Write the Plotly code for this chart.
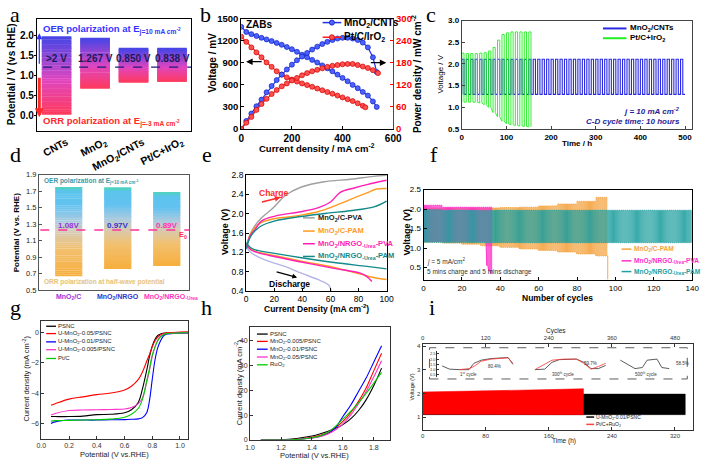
import plotly.graph_objects as go
from plotly.colors import sample_colorscale

W, H = 709, 466
FONT = "Liberation Sans"
SERIF = "Liberation Serif"

# ======================= DATA =======================
# (a) OER/ORR polarisation gaps
a_categories = ["CNTs", "MnO<sub>2</sub>", "MnO<sub>2</sub>/CNTs", "Pt/C+IrO<sub>2</sub>"]
a_orr_potential = [0.02, 0.67, 0.83, 0.84]
a_oer_potential = [1.97, 1.93, 1.67, 1.67]
a_gap_labels = [">2 V", "1.267 V", "0.850 V", "0.838 V"]
a_reference_V = 1.2
a_yticks = [0.0, 0.5, 1.0, 1.5, 2.0]

# (b) ZAB polarisation and power density
b_mn_j = [0, 20, 40, 60, 80, 100, 120, 140, 160, 180, 200, 220, 240, 260, 280, 300, 320, 340, 360, 380,
          400, 420, 440, 460, 480, 500, 520, 535]
b_mn_voltage = [1389, 1320, 1290, 1265, 1240, 1218, 1195, 1170, 1145, 1115, 1085, 1050, 1010, 975, 940, 905,
                865, 825, 785, 740, 695, 650, 600, 555, 505, 455, 375, 300]
b_mn_power = [0, 22, 42, 62, 80, 100, 117, 133, 148, 162, 175, 187, 197, 207, 216, 224, 231, 237, 242, 246,
              248, 248, 246, 242, 235, 222, 195, 155]
b_pt_jv = [0, 20, 40, 60, 80, 100, 120, 140, 160, 180, 200, 220, 240, 260, 280, 300, 320, 340, 360, 380,
           400, 420, 440, 460, 480, 490]
b_pt_voltage = [1256, 1185, 1110, 1042, 975, 905, 845, 785, 740, 702, 672, 645, 620, 597, 574, 550, 527, 503,
                480, 455, 430, 405, 380, 350, 315, 295]
b_pt_jp = [0, 20, 40, 60, 80, 100, 120, 140, 160, 180, 200, 220, 240, 260, 280, 300, 320, 340, 360, 380,
           400, 420, 440, 460, 480, 500, 520, 540]
b_pt_power = [0, 17, 33, 52, 68, 82, 95, 106, 116, 124, 132, 139, 146, 152, 157, 161, 165, 169, 172, 174,
              176, 177, 177, 174, 170, 166, 160, 152]

# (c) galvanostatic cycling
c_cycle_h = 10
c_mn_cycles = 50
c_mn_charge_V = [2.11]
c_mn_discharge_V = [1.30]
c_pt_charge_V = [2.25, 2.24, 2.24, 2.24, 2.25, 2.26, 2.30, 2.38, 2.55, 2.68, 2.72, 2.74, 2.74, 2.74, 2.74, 2.74]
c_pt_discharge_V = [1.12, 1.12, 1.12, 1.12, 1.10, 1.06, 1.00, 0.88, 0.78, 0.68, 0.62, 0.60, 0.58, 0.57, 0.56, 0.55]

# (d) polarisation gaps
d_categories = ["MnO<sub>2</sub>/C", "MnO<sub>2</sub>/NRGO", "MnO<sub>2</sub>/NRGO<sub>-Urea</sub>"]
d_label_colors = ["#9933dd", "#3333cc", "#ff33bb"]
d_orr_potential = [0.67, 0.76, 0.80]
d_oer_potential = [1.75, 1.75, 1.69]
d_gap_labels = ["1.08V", "0.97V", "0.89V"]
d_E0 = 1.23
d_yticks = [0.5, 0.7, 0.9, 1.1, 1.3, 1.5, 1.7, 1.9]

# (e) charge / discharge polarisation
e_names = ["MnO<sub>2</sub>/C-PVA", "MnO<sub>2</sub>/C-PAM", "MnO<sub>2</sub>/NRGO<sub>-Urea</sub>-PVA",
           "MnO<sub>2</sub>/NRGO<sub>-Urea</sub>-PAM"]
e_colors = ["#a0a0a0", "#ff9a1f", "#ff1fb4", "#138a8a"]
e_text_colors = ["#222222", "#ff9a1f", "#ff1fb4", "#138a8a"]
e_dis_colors = ["#b4b4e6", "#ff9a1f", "#ff1fb4", "#138a8a"]
e_grey_charge_j = [0, 3, 6.5, 11.2, 18.2, 22.9, 27.6, 39.3, 55.6, 74.3, 90.7, 100]
e_grey_charge_V = [1.30, 1.58, 1.76, 1.92, 2.09, 2.23, 2.37, 2.55, 2.66, 2.71, 2.77, 2.79]
e_orange_charge_j = [0, 3, 6.5, 11, 20.6, 30, 39, 51, 63, 74, 86, 93, 100]
e_orange_charge_V = [1.30, 1.58, 1.72, 1.82, 1.90, 1.93, 1.97, 2.04, 2.16, 2.29, 2.43, 2.51, 2.52]
e_pink_charge_j = [0, 3, 6.5, 11, 20.6, 39, 51, 60, 67, 77, 86, 100]
e_pink_charge_V = [1.28, 1.55, 1.68, 1.85, 1.95, 2.04, 2.12, 2.24, 2.44, 2.53, 2.60, 2.69]
e_teal_charge_j = [0, 3, 6.5, 11, 20.6, 39, 58, 74, 91, 100]
e_teal_charge_V = [1.27, 1.52, 1.65, 1.75, 1.85, 1.94, 2.01, 2.06, 2.14, 2.26]
e_grey_dis_j = [0, 3, 6.5, 15.9, 27.6, 39.3, 51, 59, 60.5]
e_grey_dis_V = [1.31, 1.21, 1.14, 1.02, 0.91, 0.77, 0.64, 0.52, 0.40]
e_orange_dis_j = [0, 3, 6.5, 15.9, 39.3, 62.6, 81.3, 90.7, 100]
e_orange_dis_V = [1.38, 1.28, 1.22, 1.16, 1.02, 0.89, 0.75, 0.68, 0.64]
e_pink_dis_j = [0, 3, 6.5, 15.9, 39.3, 62.6, 81.3, 86, 89.5]
e_pink_dis_V = [1.35, 1.26, 1.21, 1.14, 1.00, 0.87, 0.77, 0.70, 0.60]
e_teal_dis_j = [0, 3, 6.5, 15.9, 39.3, 62.6, 86, 100]
e_teal_dis_V = [1.40, 1.30, 1.25, 1.20, 1.09, 0.99, 0.91, 0.86]

# (f) cycling of flexible cells (values per block of 10 cycles)
f_block = 10
f_orange_cycles = 96
f_orange_top = [2.03, 2.03, 2.03, 2.03, 2.04, 2.05, 2.08, 2.13, 2.20, 2.30]
f_orange_bot = [1.15, 1.13, 1.10, 1.06, 1.02, 0.98, 0.94, 0.90, 0.85, 0.80]
f_orange_end_V = 0.2
f_pink_cycles = 33
f_pink_top = [2.10, 2.05, 2.05, 2.05]
f_pink_bot = [1.17, 1.17, 1.17, 1.17]
f_pink_fail_V = [0.55, 0.42, 0.35]
f_teal_cycles = 140
f_teal_top = [1.99, 1.97, 1.97, 1.97, 1.97, 1.97, 1.97, 1.97, 1.97, 1.97, 1.97, 1.97, 1.97, 1.97]
f_teal_bot = [1.15, 1.14, 1.14, 1.14, 1.14, 1.14, 1.14, 1.14, 1.14, 1.14, 1.14, 1.14, 1.14, 1.14]

# (g) ORR LSV
g_names = ["PSNC", "U-MnO<sub>2</sub>-0.05/PSNC", "U-MnO<sub>2</sub>-0.01/PSNC", "U-MnO<sub>2</sub>-0.005/PSNC", "Pt/C"]
g_colors = ["#000000", "#ff0000", "#0000ff", "#ff33cc", "#00cc00"]
g_potential = [0.07, 0.1, 0.2, 0.3, 0.4, 0.5, 0.6, 0.65, 0.7, 0.73, 0.76, 0.78, 0.8, 0.82, 0.84, 0.86, 0.88,
               0.9, 0.95, 1.0, 1.06]
g_psnc = [-5.55, -5.55, -5.55, -5.52, -5.42, -5.4, -5.3, -5.1, -4.6, -3.7, -2.5, -1.6, -0.9, -0.45, -0.2, -0.1,
          -0.06, -0.04, -0.03, -0.02, -0.02]
g_mn005 = [-4.8, -4.7, -4.4, -4.25, -4.1, -4.0, -3.8, -3.55, -3.1, -2.6, -1.9, -1.45, -0.95, -0.55, -0.3, -0.15,
           -0.07, -0.03, 0.0, 0.02, 0.05]
g_mn001 = [-6.0, -5.9, -5.78, -5.78, -5.78, -5.76, -5.75, -5.73, -5.7, -5.62, -5.3, -4.5, -3.1, -1.8, -1.0, -0.55,
           -0.25, -0.12, -0.07, -0.05, -0.04]
g_mn0005 = [-5.45, -5.35, -5.15, -5.12, -5.1, -5.08, -5.05, -4.95, -4.7, -4.3, -3.3, -2.5, -1.6, -0.95, -0.5,
            -0.25, -0.12, -0.08, -0.05, -0.03, -0.02]
g_ptc = [-5.85, -5.82, -5.8, -5.78, -5.76, -5.72, -5.6, -5.4, -5.0, -4.4, -3.2, -2.4, -1.5, -0.95, -0.55, -0.3,
         -0.15, -0.08, -0.05, -0.03, -0.02]

# (h) OER LSV
h_names = ["PSNC", "MnO<sub>2</sub>-0.005/PSNC", "MnO<sub>2</sub>-0.01/PSNC", "MnO<sub>2</sub>-0.05/PSNC", "RuO<sub>2</sub>"]
h_colors = ["#000000", "#ff0000", "#0000ff", "#ff33cc", "#00cc00"]
h_potential = [1.07, 1.1, 1.2, 1.3, 1.4, 1.45, 1.5, 1.55, 1.6, 1.65, 1.7, 1.75, 1.8, 1.85]
h_psnc = [0, 0, 0.1, 0.6, 1.6, 2.4, 3.4, 4.6, 6.2, 8.5, 11.8, 16.2, 22, 29]
h_mn0005 = [0, 0, 0, 0.3, 1.1, 1.8, 3.0, 4.8, 7.5, 11, 15.5, 21, 28, 35]
h_mn001 = [0, 0, 0, 0.2, 0.8, 1.4, 2.5, 4.8, 9.5, 14, 19.5, 25, 31.5, 38]
h_mn005 = [0, 0, 0, 0.2, 0.8, 1.3, 2.3, 4.0, 6.5, 10, 14.5, 19.5, 25.5, 32]
h_ruo2 = [0, 0, 0, 0.2, 0.9, 1.6, 3.0, 5.4, 8.5, 11.5, 15, 18.8, 23, 27.3]

# (i) long-term cycling envelopes
i_pt_time = [0, 40, 80, 120, 160, 204]
i_pt_top = [2.06, 2.08, 2.10, 2.13, 2.16, 2.20]
i_pt_bot = [1.12, 1.12, 1.12, 1.11, 1.10, 1.10]
i_mn_time = [0, 100, 200, 333]
i_mn_top = [1.97, 1.97, 1.97, 1.97]
i_mn_bot = [1.10, 1.10, 1.10, 1.10]
i_cycles_per_h = 1.5
# inset snippets (inset time units)
i_s1_black_t = [2, 5, 9, 13, 15, 18, 22, 26, 29, 31]
i_s1_black_V = [1.35, 1.05, 1.0, 1.0, 1.6, 1.9, 2.05, 2.1, 2.15, 1.5]
i_s1_red_t = [9, 13, 15, 18, 22, 26, 29, 31]
i_s1_red_V = [1.0, 1.1, 1.3, 1.8, 2.0, 2.1, 2.12, 1.6]
i_s2_black_t = [40, 44, 47, 50, 57, 60, 63, 66, 69]
i_s2_black_V = [1.0, 1.05, 1.7, 1.95, 2.0, 1.7, 1.1, 1.1, 1.4]
i_s2_red_t = [40, 43, 47, 52, 57, 60, 63, 66, 69]
i_s2_red_V = [1.0, 1.4, 1.9, 2.0, 2.0, 1.6, 1.05, 1.3, 1.6]
i_s3_black_t = [75, 78, 81, 84, 86, 90, 92, 95]
i_s3_black_V = [1.9, 1.5, 1.1, 1.2, 1.9, 2.0, 1.2, 1.1]

# ======================= HELPERS =======================
def xd(l, r):
    return [l / W, r / W]

def yd(t, b):
    return [1 - b / H, 1 - t / H]

anns, shapes = [], []

def fnt(size, color="black", bold=False, italic=False, family=FONT):
    return dict(family=family, size=size, color=color, weight="bold" if bold else "normal",
                style="italic" if italic else "normal")

def text(x, y, s, size, color="black", bold=False, xa="left", ya="middle", angle=0, italic=False, family=FONT):
    anns.append(dict(x=x / W, y=1 - y / H, xref="paper", yref="paper", text=s, showarrow=False,
                     xanchor=xa, yanchor=ya, textangle=angle, borderpad=0,
                     font=fnt(size, color, bold, italic, family)))

def dtext(xref, yref, x, y, s, size, color="black", bold=False, xa="center", ya="middle", angle=0):
    anns.append(dict(x=x, y=y, xref=xref, yref=yref, text=s, showarrow=False, xanchor=xa, yanchor=ya,
                     textangle=angle, borderpad=0, font=fnt(size, color, bold)))

def arrow(hx, hy, tx, ty, color, width=1.2, head=2, size=1):
    anns.append(dict(x=hx / W, y=1 - hy / H, xref="paper", yref="paper", ax=tx - hx, ay=ty - hy,
                     showarrow=True, arrowhead=head, arrowsize=size, arrowwidth=width, arrowcolor=color, text=""))

def hline(x0, x1, y, color, width=1.5, dash="solid"):
    shapes.append(dict(type="line", xref="paper", yref="paper", x0=x0 / W, x1=x1 / W, y0=1 - y / H,
                       y1=1 - y / H, line=dict(color=color, width=width, dash=dash)))

def circle(cx, cy, r, color, edge):
    shapes.append(dict(type="circle", xref="paper", yref="paper", x0=(cx - r) / W, x1=(cx + r) / W,
                       y0=1 - (cy + r) / H, y1=1 - (cy - r) / H, fillcolor=color, line=dict(color=edge, width=0.8)))

def axis(domain, rng, anchor, size, bold=False, color="black", linecolor=None, **kw):
    d = dict(domain=domain, range=rng, anchor=anchor, showline=True, linecolor=linecolor or color, linewidth=1,
             mirror=True, ticks="inside", ticklen=3, tickwidth=1, tickcolor=linecolor or color, showgrid=False,
             zeroline=False, tickfont=fnt(size, color, bold), fixedrange=True, ticklabeloverflow="allow")
    d.update(kw)
    return d

def square_wave(n, period, tops, bots, block):
    xs, ys = [], []
    for k in range(n):
        hi = tops[min(k // block, len(tops) - 1)]
        lo = bots[min(k // block, len(bots) - 1)]
        t0 = k * period
        xs += [t0, t0, t0 + period / 2, t0 + period / 2]
        ys += [lo, hi, hi, lo]
    return xs, ys

fig = go.Figure()

def line(x, y, xa, ya, color, width=1.0, **kw):
    fig.add_trace(go.Scatter(x=x, y=y, xaxis=xa, yaxis=ya, mode="lines", line=dict(color=color, width=width),
                             showlegend=False, hoverinfo="skip", **kw))

def gradient_bars(lows, highs, xa, ya, scale, width, n=48):
    """Floating bars between lows and highs, each filled by a bottom-to-top colour gradient."""
    cols = sample_colorscale(scale, [(k + 0.5) / n for k in range(n)])
    xs = list(range(len(lows)))
    for k in range(n):
        step = [(h - l) / n for l, h in zip(lows, highs)]
        fig.add_trace(go.Bar(x=xs, base=[l + k * s for l, s in zip(lows, step)], y=[s * 1.08 for s in step],
                             xaxis=xa, yaxis=ya, width=width, marker=dict(color=cols[k], line=dict(width=0)),
                             showlegend=False, hoverinfo="skip"))

layout = dict(width=W, height=H, margin=dict(l=0, r=0, t=0, b=0), paper_bgcolor="white",
              plot_bgcolor="white", showlegend=False, hovermode=False, barmode="overlay")

# ======================= (a) =======================
a_scale = [[0, "#ff3a5a"], [0.45, "#e046c0"], [1, "#4646e6"]]
gradient_bars(a_orr_potential, a_oer_potential, "x", "y", a_scale, 0.77)
for i in range(len(a_categories)):
    dtext("x", "y", i, 1.42, a_gap_labels[i], 10, "#1a1a5a", True)
    dtext("x", "paper", i + 0.38, 1 - 131 / H, a_categories[i], 10.5, "black", True, "right", "top", -28)
for v in a_yticks:
    dtext("paper", "y", 30.5 / W, v, "%.1f" % v, 10, "black", True, "right", "middle")
layout["xaxis"] = axis(xd(33, 190), [-0.5, 3.5], "y", 10, True, linewidth=1.3, showticklabels=False, ticks="")
layout["yaxis"] = axis(yd(13, 128), [-0.39, 2.41], "x", 10, True, linewidth=1.3, tickmode="array",
                       tickvals=a_yticks, showticklabels=False, ticks="outside", ticklen=2)
shapes.append(dict(type="line", xref="x", yref="y", x0=-0.35, x1=3.5, y0=a_reference_V, y1=a_reference_V,
                   line=dict(color="#1a1a80", width=1.3, dash="dash")))
arrow(35, 28, 35, 60, "#3030ff", 1.2, 2, 1)
arrow(35, 114, 35, 73, "#ff2a2a", 3, 2, 0.6)
text(38, 24, "OER polarization at E<sub>j=10 mA cm<sup>-2</sup></sub>", 9.5, "#3434ff", True)
text(38, 118, "ORR polarization at E<sub>j=-3 mA cm<sup>-2</sup></sub>", 9.5, "#ff2a2a", True)
text(6, 70, "Potential / V (vs RHE)", 10, "black", True, "center", "middle", -90)

# ======================= (b) =======================
fig.add_trace(go.Scatter(x=b_mn_j, y=b_mn_voltage, xaxis="x2", yaxis="y2", mode="lines+markers",
                         line=dict(color="#2233ee", width=1.2),
                         marker=dict(size=5, color="#4a62ff", line=dict(color="#1020c0", width=0.7)),
                         showlegend=False, hoverinfo="skip"))
fig.add_trace(go.Scatter(x=b_pt_jv, y=b_pt_voltage, xaxis="x2", yaxis="y2", mode="lines+markers",
                         line=dict(color="#ff2222", width=1.2),
                         marker=dict(size=5, color="#ff5050", line=dict(color="#d00000", width=0.7)),
                         showlegend=False, hoverinfo="skip"))
fig.add_trace(go.Scatter(x=b_mn_j, y=b_mn_power, xaxis="x2", yaxis="y10", mode="lines+markers",
                         line=dict(color="#2233ee", width=1.2),
                         marker=dict(size=5, color="#4a62ff", line=dict(color="#1020c0", width=0.7)),
                         showlegend=False, hoverinfo="skip"))
fig.add_trace(go.Scatter(x=b_pt_jp, y=b_pt_power, xaxis="x2", yaxis="y10", mode="lines+markers",
                         line=dict(color="#ff2222", width=1.2),
                         marker=dict(size=5, color="#ff5050", line=dict(color="#d00000", width=0.7)),
                         showlegend=False, hoverinfo="skip"))
layout["xaxis2"] = axis(xd(241, 396), [0, 600], "y2", 10, True, dtick=200)
layout["yaxis2"] = axis(yd(13, 126), [0, 1500], "x2", 9.5, True, dtick=300, mirror=False)
layout["yaxis10"] = axis(yd(13, 126), [0, 300], "x2", 9.5, True, color="#ff0000", overlaying="y2",
                         side="right", dtick=60, mirror=False)
text(245, 19, "ZABs", 10, "black", True)
hline(324, 343, 17, "#2233ee", 1.5)
circle(333.5, 17, 2.6, "#4a62ff", "#1020c0")
text(345, 17, "MnO<sub>2</sub>/CNTs", 10, "black", True)
hline(324, 343, 32, "#ff2222", 1.5)
circle(333.5, 32, 2.6, "#ff5050", "#d00000")
text(345, 32, "Pt/C/IrO<sub>2</sub>", 10, "black", True)
arrow(246, 57, 263, 57, "black", 1.3, 2, 1)
arrow(389, 58, 372, 58, "black", 1.3, 2, 1)
text(212, 58, "Voltage / mV", 10, "black", True, "center", "middle", -90)
text(420, 70, "Power density / mW cm<sup>-2</sup>", 10, "black", True, "center", "middle", -90)
text(318, 145, "Current density / mA cm<sup>-2</sup>", 9.5, "black", True, "center", "middle")

# ======================= (c) =======================
cx, cy = square_wave(c_mn_cycles, c_cycle_h, c_mn_charge_V, c_mn_discharge_V, 10 ** 6)
line(cx + [c_mn_cycles * c_cycle_h], cy + [c_mn_discharge_V[0]], "x3", "y3", "#2a2ae0", 1.1)
gx, gy = square_wave(len(c_pt_charge_V), c_cycle_h, c_pt_charge_V, c_pt_discharge_V, 1)
line(gx, gy, "x3", "y3", "#22ee22", 1.0, opacity=0.9)
layout["xaxis3"] = axis(xd(466, 701), [0, 516], "y3", 8, True, linecolor="#444", dtick=100)
layout["yaxis3"] = axis(yd(15, 126), [0.5, 3.0], "x3", 8, True, linecolor="#444", tick0=0.5, dtick=0.5,
                        tickformat=".1f")
hline(610, 634, 23, "#2a2ae0", 2)
text(637, 23, "MnO<sub>2</sub>/CNTs", 8, "black", True)
hline(610, 634, 33, "#22ee22", 2)
text(637, 33, "Pt/C+IrO<sub>2</sub>", 8, "black", True)
text(690, 108, "<i>j</i> = 10 mA cm<sup>-2</sup>", 8, "#1f1f99", True, "right", italic=True)
text(690, 118, "C-D cycle time: 10 hours", 8, "#1f1f99", True, "right", italic=True)
text(444, 70, "Voltage / V", 8, "black", False, "center", "middle", -90)
text(584, 141, "Time / h", 8, "black", True, "center")

# ======================= (d) =======================
d_scale = [[0, "#f7ae3c"], [0.3, "#f2c06e"], [0.5, "#d6cbb4"], [0.62, "#a9cbe0"], [0.8, "#62c2f0"],
           [0.96, "#5ac4ec"], [1, "#4fd6b4"]]
gradient_bars(d_orr_potential, d_oer_potential, "x4", "y4", d_scale, 0.554)
for i in range(len(d_categories)):
    dtext("x4", "y4", i, 1.285, d_gap_labels[i], 8, d_label_colors[i], True)
    dtext("x4", "paper", i + (0.08 if i == 2 else 0), 1 - 293 / H, d_categories[i], 7, d_label_colors[i], True,
          "center", "top")
for v in d_yticks:
    dtext("paper", "y4", 32.5 / W, v, "%.1f" % v, 7.5, "#222", False, "right", "middle")
layout["xaxis4"] = axis(xd(35, 188), [-0.6, 2.46], "y4", 8, True, linecolor="#555", showticklabels=False,
                        ticks="")
layout["yaxis4"] = axis(yd(173, 291), [0.5, 1.9], "x4", 7.5, False, linecolor="#555", tickmode="array",
                        tickvals=d_yticks, showticklabels=False)
shapes.append(dict(type="line", xref="x4", yref="y4", x0=-0.58, x1=2.46, y0=d_E0, y1=d_E0,
                   line=dict(color="#ff3399", width=1.5, dash="dash")))
text(176, 235, "E<sub>0</sub>", 7.5, "#ff3355", True, "left")
text(39, 179, "OER polarization at E<sub>j=10 mA cm<sup>-2</sup></sub>", 6.5, "#3a9aa8", True)
text(39, 283, "ORR polarization at half-wave potential", 6.5, "#e6c27a", True)
text(12, 232, "Potential (V vs. RHE)", 8, "black", True, "center", "middle", -90)

# ======================= (e) =======================
e_charge = [(e_grey_charge_j, e_grey_charge_V), (e_orange_charge_j, e_orange_charge_V),
            (e_pink_charge_j, e_pink_charge_V), (e_teal_charge_j, e_teal_charge_V)]
e_dis = [(e_grey_dis_j, e_grey_dis_V), (e_orange_dis_j, e_orange_dis_V),
         (e_pink_dis_j, e_pink_dis_V), (e_teal_dis_j, e_teal_dis_V)]
for k in range(4):
    line(e_charge[k][0], e_charge[k][1], "x5", "y5", e_colors[k], 1.4, line_shape="spline")
    line(e_dis[k][0], e_dis[k][1], "x5", "y5", e_dis_colors[k], 1.4, line_shape="spline")
layout["xaxis5"] = axis(xd(246, 390), [0, 100.5], "y5", 8.5, False, dtick=20)
layout["yaxis5"] = axis(yd(173, 292), [0.4, 2.8], "x5", 8.5, False, tick0=0.4, dtick=0.4, tickformat=".1f")
for k, yy in enumerate([217, 230.5, 243.5, 256.5]):
    hline(304, 316, yy, e_colors[k], 1.5)
    text(318, yy, e_names[k], 7.5, e_text_colors[k], True)
text(258, 192, "Charge", 8.5, "#ff2a2a", True)
arrow(281, 196, 261, 201, "#ff2a2a", 1.4, 2, 0.8)
text(268, 285, "Discharge", 8.5, "black", True)
arrow(298, 278, 276, 272, "black", 1.2, 2, 0.8)
text(224, 232, "Voltage (V)", 9, "black", True, "center", "middle", -90)
text(318, 310, "Current Density (mA cm<sup>-2</sup>)", 8.5, "black", True, "center")

# ======================= (f) =======================
ox, oy = square_wave(f_orange_cycles, 1, f_orange_top, f_orange_bot, f_block)
line(ox + [f_orange_cycles, f_orange_cycles], oy + [oy[-1], f_orange_end_V], "x6", "y6", "#f4a340", 0.9)
px_, py_ = square_wave(f_pink_cycles, 1, f_pink_top, f_pink_bot, f_block)
fx, fy = square_wave(len(f_pink_fail_V), 1, [f_pink_top[-1]], f_pink_fail_V, 1)
fx = [v + f_pink_cycles for v in fx]
line(px_ + fx, py_ + fy, "x6", "y6", "#ff2fc8", 0.9)
tx, ty = square_wave(f_teal_cycles, 1, f_teal_top, f_teal_bot, f_block)
line(tx, ty, "x6", "y6", "#22a0a0", 0.9)
layout["xaxis6"] = axis(xd(427, 701), [0, 140], "y6", 8, False, dtick=20)
layout["yaxis6"] = axis(yd(188, 281), [0.175, 2.5], "x6", 8, False, tick0=0.5, dtick=0.5, tickformat=".1f")
for yy, c, s in [(249, "#f4a340", "MnO<sub>2</sub>/C-PAM"),
                 (261, "#ff2fc8", "MnO<sub>2</sub>/NRGO<sub>-Urea</sub>-PVA"),
                 (272, "#22a0a0", "MnO<sub>2</sub>/NRGO<sub>-Urea</sub>-PAM")]:
    hline(629, 639, yy, c, 1.5)
    text(641, yy, s, 6.5, c, True)
text(429, 262, "<i>j</i> = 5 mA/cm<sup>2</sup>", 6.5, "#333")
text(429, 272, "5 mins charge and 5 mins discharge", 6.5, "#333")
text(410, 232, "Voltage (V)", 9, "black", True, "center", "middle", -90)
text(564, 299, "Number of cycles", 8.5, "black", True, "center")

# ======================= (g) =======================
for ys_, c in zip([g_psnc, g_mn005, g_mn001, g_mn0005, g_ptc], g_colors):
    line(g_potential, ys_, "x7", "y7", c, 1.1, line_shape="spline")
layout["xaxis7"] = axis(xd(37, 187), [0, 1.06], "y7", 7, False, color="#333", dtick=0.2, tickformat=".1f")
layout["yaxis7"] = axis(yd(323, 443), [-7.0, 0.73], "x7", 7, False, color="#333", dtick=2)
for k, yy in enumerate([328, 335.5, 344, 352, 361]):
    hline(42, 52, yy, g_colors[k], 1.3)
    text(53.5, yy, g_names[k], 6, "#222")
text(21, 382, "Current density (mA cm<sup>-2</sup>)", 7.5, "#222", False, "center", "middle", -90)
text(112, 459, "Potential (V vs.RHE)", 7.5, "#222", False, "center")

# ======================= (h) =======================
for ys_, c in zip([h_psnc, h_mn0005, h_mn001, h_mn005, h_ruo2], h_colors):
    line(h_potential, ys_, "x8", "y8", c, 1.1, line_shape="spline")
layout["xaxis8"] = axis(xd(250, 393), [1.0, 1.906], "y8", 7, False, color="#333", dtick=0.2, tickformat=".1f")
layout["yaxis8"] = axis(yd(329, 445), [-0.2, 45.5], "x8", 7, False, color="#333", dtick=10)
for k, yy in enumerate([336, 343.5, 351.5, 359.5, 367.5]):
    hline(257, 268, yy, h_colors[k], 1.3)
    text(269.5, yy, h_names[k], 6, "#222")
text(238, 385, "Current density (mA cm<sup>-2</sup>)", 7.5, "#222", False, "center", "middle", -90)
text(316, 460, "Potential (V vs.RHE)", 7.5, "#222", False, "center")

# ======================= (i) =======================
fig.add_trace(go.Scatter(x=i_mn_time + i_mn_time[::-1], y=i_mn_top + i_mn_bot[::-1], xaxis="x9", yaxis="y9",
                         mode="lines", fill="toself", fillcolor="#000000", line=dict(color="#000000", width=0.5),
                         showlegend=False, hoverinfo="skip"))
fig.add_trace(go.Scatter(x=i_pt_time + i_pt_time[::-1], y=i_pt_top + i_pt_bot[::-1], xaxis="x9", yaxis="y9",
                         mode="lines", fill="toself", fillcolor="#ff0000", line=dict(color="#ff0000", width=0.5),
                         showlegend=False, hoverinfo="skip"))
# invisible trace so that the top (cycles) axis is drawn
fig.add_trace(go.Scatter(x=[0, 343 * i_cycles_per_h], y=[0.46, 0.46], xaxis="x10", yaxis="y9", mode="lines",
                         line=dict(width=0, color="rgba(0,0,0,0)"), showlegend=False, hoverinfo="skip"))
layout["xaxis9"] = axis(xd(426, 702), [0, 343], "y9", 6, False, color="#333", tickmode="array",
                        tickvals=[0, 80, 160, 240, 320], mirror=False)
layout["xaxis10"] = axis(xd(426, 702), [0, 343 * i_cycles_per_h], "y9", 6, False, color="#333",
                         overlaying="x9", side="top", tickmode="array", tickvals=[0, 120, 240, 360, 480],
                         mirror=False)
layout["yaxis9"] = axis(yd(346, 434), [0.46, 4.1], "x9", 6, False, color="#333", tickmode="array",
                        tickvals=[1, 2, 3, 4])
# inset
for tt, vv, c in [(i_s1_black_t, i_s1_black_V, "#333333"), (i_s1_red_t, i_s1_red_V, "#ff3333"),
                  (i_s2_black_t, i_s2_black_V, "#333333"), (i_s2_red_t, i_s2_red_V, "#ff3333"),
                  (i_s3_black_t, i_s3_black_V, "#333333")]:
    line(tt, vv, "x11", "y11", c, 0.8)
layout["xaxis11"] = dict(domain=xd(441, 690), range=[0, 100], anchor="y11", visible=False, fixedrange=True)
layout["yaxis11"] = axis(yd(353, 380), [0.3, 2.8], "x11", 4, False, color="#333", mirror=False, tickmode="array",
                         tickvals=[0.5, 1.0, 1.5, 2.0, 2.5], tickformat=".1f", ticklen=2)
shapes.append(dict(type="rect", xref="paper", yref="paper", x0=433 / W, x1=696 / W, y0=1 - 382 / H,
                   y1=1 - 350 / H, line=dict(color="#333", width=0.8, dash="dash")))
text(492, 369, "80.4%", 4.5, "#333")
text(590, 366, "59.7%", 4.5, "#333")
text(683, 366, "58.5%", 4.5, "#333")
text(473, 377, "1<sup>st</sup> cycle", 4.5, "#333", False, "center")
text(569, 377, "300<sup>th</sup> cycle", 4.5, "#333", False, "center")
text(654, 377, "500<sup>th</sup> cycle", 4.5, "#333", False, "center")
hline(593, 601, 421, "#000000", 1.5)
text(602, 421, "U-MnO<sub>2</sub>-0.01/PSNC", 5, "#222")
hline(593, 601, 428.5, "#ff4444", 1.5)
text(602, 428.5, "Pt/C+RuO<sub>2</sub>", 5, "#222")
text(415, 390, "Voltage (V)", 5.5, "#222", False, "center", "middle", -90)
text(570, 446, "Time (h)", 6.5, "#222", False, "center")
text(562, 333, "Cycles", 6.5, "#222", False, "center")

# ======================= panel letters =======================
for s, x, y in [("a", 4, 23), ("b", 198, 23), ("c", 428, 23), ("d", 4, 166), ("e", 200, 166),
                ("f", 433, 166), ("g", 4, 323), ("h", 199, 323), ("i", 432, 323)]:
    text(x, y, s, 22, "black", False, "left", "bottom", family=SERIF)

layout["annotations"] = anns
layout["shapes"] = shapes
fig.update_layout(**layout)
fig.write_html("out.html")
